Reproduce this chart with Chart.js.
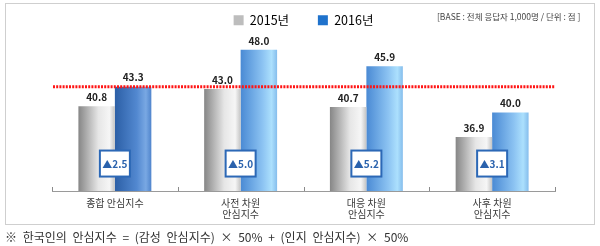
<!DOCTYPE html>
<html><head><meta charset="utf-8">
<script src="https://cdn.jsdelivr.net/npm/chart.js@4.4.1/dist/chart.umd.min.js"></script>
<style>
html,body{margin:0;padding:0;background:#fff;}
#wrap{position:relative;width:600px;height:246px;overflow:hidden;font-family:"Noto Sans CJK KR","Noto Sans",sans-serif;}
#frame{position:absolute;left:5px;top:3px;width:590px;height:222px;border:1px solid #cfcfcf;box-sizing:border-box;}
#base{position:absolute;left:437px;top:10px;font-size:8.5px;color:#444;white-space:nowrap;}
#note{position:absolute;left:5px;top:228px;font-size:12px;color:#333;white-space:nowrap;word-spacing:3px;}
canvas{position:absolute;left:0;top:0;}
</style></head>
<body>
<div id="wrap">
<div id="frame"></div>
<canvas id="c" width="600" height="246"></canvas>
<div id="base">[BASE : 전체 응답자 1,000명 / 단위 : 점 ]</div>
<div id="note">※ 한국인의 안심지수 = (감성 안심지수) × 50% + (인지 안심지수) × 50%</div>
</div>
<script>
const categories = [['종합 안심지수'], ['사전 차원', '안심지수'], ['대응 차원', '안심지수'], ['사후 차원', '안심지수']];
const seriesNames = ['2015년', '2016년'];
const values2015 = [40.8, 43.0, 40.7, 36.9];
const values2016 = [43.3, 48.0, 45.9, 40.0];
const deltas = [2.5, 5.0, 5.2, 3.1];
const referenceValue = 43.3;

const FONT = '"Noto Sans CJK KR","Noto Sans",sans-serif';

const gradStops = {
  gray: [[0,'#868686'],[0.55,'#e6e6e6'],[0.85,'#f6f6f6'],[1,'#c4c4c4']],
  darkBlue: [[0,'#2c5fa6'],[0.6,'#5288d0'],[0.85,'#79a8e3'],[1,'#4f84cc']],
  lightBlue: [[0,'#4a8ad4'],[0.6,'#8cc3f2'],[0.85,'#ace0fd'],[1,'#85bdec']]
};
function stopsFor(ds, i){ if(ds===0) return gradStops.gray; return i===0 ? gradStops.darkBlue : gradStops.lightBlue; }

const gradientPlugin = {
  id:'grad',
  beforeDatasetsDraw(chart){
    const ctx = chart.ctx;
    chart.data.datasets.forEach((d, di)=>{
      const meta = chart.getDatasetMeta(di);
      meta.data.forEach((el, i)=>{
        const w = el.width, x0 = el.x - w/2;
        const g = ctx.createLinearGradient(x0,0,x0+w,0);
        stopsFor(di,i).forEach(s=>g.addColorStop(s[0],s[1]));
        el.options = Object.assign({}, el.options, {backgroundColor:g});
      });
    });
  }
};

const overlayPlugin = {
  id:'overlay',
  afterDatasetsDraw(chart){
    const ctx = chart.ctx, xs = chart.scales.x, ys = chart.scales.y, ca = chart.chartArea;
    ctx.save();
    const yr = ys.getPixelForValue(referenceValue);
    ctx.strokeStyle = '#ff1414'; ctx.lineWidth = 3; ctx.setLineDash([2,1.2]);
    ctx.beginPath(); ctx.moveTo(ca.left+1, yr); ctx.lineTo(ca.right, yr); ctx.stroke();
    ctx.setLineDash([]);
    ctx.font = 'bold 10px ' + FONT; ctx.fillStyle = '#222'; ctx.textAlign = 'center'; ctx.textBaseline = 'middle';
    chart.data.datasets.forEach((d, di)=>{
      chart.getDatasetMeta(di).data.forEach((el, i)=>{
        ctx.fillText(d.data[i].toFixed(1), el.x, el.y - 9);
      });
    });
    deltas.forEach((v, i)=>{
      const cx = xs.getPixelForValue(i), cy = ys.getPixelForValue(33.5);
      const bw = 30, bh = 26;
      ctx.fillStyle = '#fff'; ctx.fillRect(cx-bw/2, cy-bh/2, bw, bh);
      ctx.strokeStyle = '#2c68b6'; ctx.lineWidth = 2; ctx.strokeRect(cx-bw/2, cy-bh/2, bw, bh);
      ctx.fillStyle = '#2a62ad'; ctx.font = 'bold 10px ' + FONT;
      ctx.fillText('▲' + v.toFixed(1), cx, cy+0.5);
    });
    const half = (xs.getPixelForValue(1) - xs.getPixelForValue(0))/2;
    ctx.strokeStyle = '#8a8a8a'; ctx.lineWidth = 1;
    for(let i=0;i<=categories.length;i++){
      const x = Math.round(xs.getPixelForValue(i) - half) + 0.5;
      ctx.beginPath(); ctx.moveTo(x, ca.bottom); ctx.lineTo(x, ca.bottom-4); ctx.stroke();
    }
    ctx.restore();
  }
};

new Chart(document.getElementById('c'), {
  type:'bar',
  data:{
    labels: categories,
    datasets:[
      {label: seriesNames[0], data: values2015, backgroundColor:'#c0c0c0', legendColor:'#bdbdbd'},
      {label: seriesNames[1], data: values2016, backgroundColor:'#5b9be0', legendColor:'#1f72cc'}
    ]
  },
  options:{
    responsive:false, animation:false,
    layout:{padding:{left:52, right:45, top:4, bottom:0}},
    datasets:{bar:{categoryPercentage:0.58, barPercentage:1.0, borderWidth:0}},
    scales:{
      x:{
        grid:{display:false},
        border:{display:true, color:'#9a9a9a', width:1},
        ticks:{color:'#3a3a3a', font:{family:FONT, size:10, lineHeight:1.05}, padding:-1, maxRotation:0, autoSkip:false},
        afterFit(s){ s.height = 55; }
      },
      y:{display:false, min:30, max:49.7}
    },
    plugins:{
      legend:{
        position:'top', align:'center',
        labels:{
          boxWidth:10, boxHeight:10, padding:10, color:'#222',
          font:{family:FONT, size:12.5},
          generateLabels(chart){
            return chart.data.datasets.map((d,i)=>({
              text: i===0 ? d.label + '\u2002\u2002\u2002' : d.label,
              fillStyle: d.legendColor, strokeStyle: d.legendColor, lineWidth:0,
              datasetIndex:i, hidden:false
            }));
          }
        }
      },
      tooltip:{enabled:false}
    }
  },
  plugins:[gradientPlugin, overlayPlugin]
});
</script>
</body></html>
